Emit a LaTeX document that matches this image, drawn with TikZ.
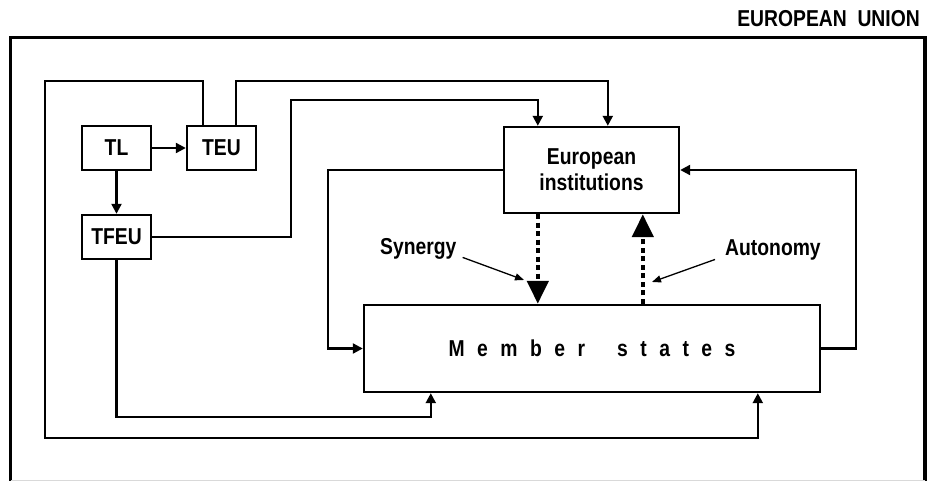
\documentclass[tikz,border=0pt]{standalone}
\usepackage{fontspec}
\setmainfont{Liberation Sans}[FakeStretch=0.84]
\usetikzlibrary{arrows.meta}
\newcommand{\letgap}{\hspace{12.5pt}}

\begin{document}
\begin{tikzpicture}[x=1pt, y=-1pt,
  font=\fontsize{23}{26}\selectfont\bfseries,
  box/.style={draw, line width=2.4pt, inner sep=0pt, align=center},
  link/.style={line width=2.2pt, -{Triangle[length=10pt,width=10pt]}},
  flow/.style={line width=4.5pt, dash pattern=on 5pt off 3.5pt, -{Triangle[length=23pt,width=21pt]}},
  note/.style={line width=1.3pt, -{Triangle[length=9pt,width=7pt]}}]
  \useasboundingbox (0,0) rectangle (927,481);
  \draw[line width=3.2pt] (10.5,481) -- (10.5,37.5) -- (925,37.5) -- (925,481);
  \draw[gray!30, line width=1pt] (10.5,480) -- (925,480);
  \node[anchor=base east, inner sep=0pt] (eu) at (920,27) {EUROPEAN\ \ UNION};

  \node[box, minimum width=69pt, minimum height=44pt] (tl) at (116.5,148) {TL};
  \node[box, minimum width=69pt, minimum height=44pt] (teu) at (221.5,148) {TEU};
  \node[box, minimum width=69pt, minimum height=44pt] (tfeu) at (116.5,237) {TFEU};
  \node[box, minimum width=175pt, minimum height=86pt] (inst) at (591.5,170) {European\\institutions};
  \node[box, minimum width=456pt, minimum height=87pt] (states) at (592,348.5)
    {M\letgap e\letgap m\letgap b\letgap e\letgap r\hspace{32pt}s\letgap t\letgap a\letgap t\letgap e\letgap s};

  \draw[link] (tl) -- (teu);
  \draw[link] (tl) -- (tfeu);
  \draw[link] ([xshift=17pt]teu.north west) |- (45,81) -- (45,438) -| ([xshift=395pt]states.south west);
  \draw[link] ([xshift=50pt]teu.north west) -- ++(0,-44) -| ([xshift=105pt]inst.north west);
  \draw[link] (tfeu.east) -| (291,100) -| ([xshift=35pt]inst.north west);
  \draw[link] (tfeu.south) |- (300,417) -| ([xshift=68pt]states.south west);
  \draw[link] (inst.west) -- ++(-175,0) |- (states.west);
  \draw[link] (states.east) -- ++(35,0) |- (inst.east);

  \draw[flow] ([xshift=35pt]inst.south west) -- ([xshift=175pt]states.north west);
  \draw[flow] ([xshift=280pt]states.north west) -- ([xshift=140pt]inst.south west);

  \node[anchor=base west, inner sep=0pt] (syn) at (380,255) {Synergy};
  \node[anchor=base west, inner sep=0pt] (aut) at (725,256) {Autonomy};
  \coordinate (synend) at (524,280);
  \coordinate (autend) at (652,282);
  \draw[note] ([shift={(6,8)}]syn.east) -- (synend);
  \draw[note] ([shift={(-10,9)}]aut.west) -- (autend);
\end{tikzpicture}
\end{document}
